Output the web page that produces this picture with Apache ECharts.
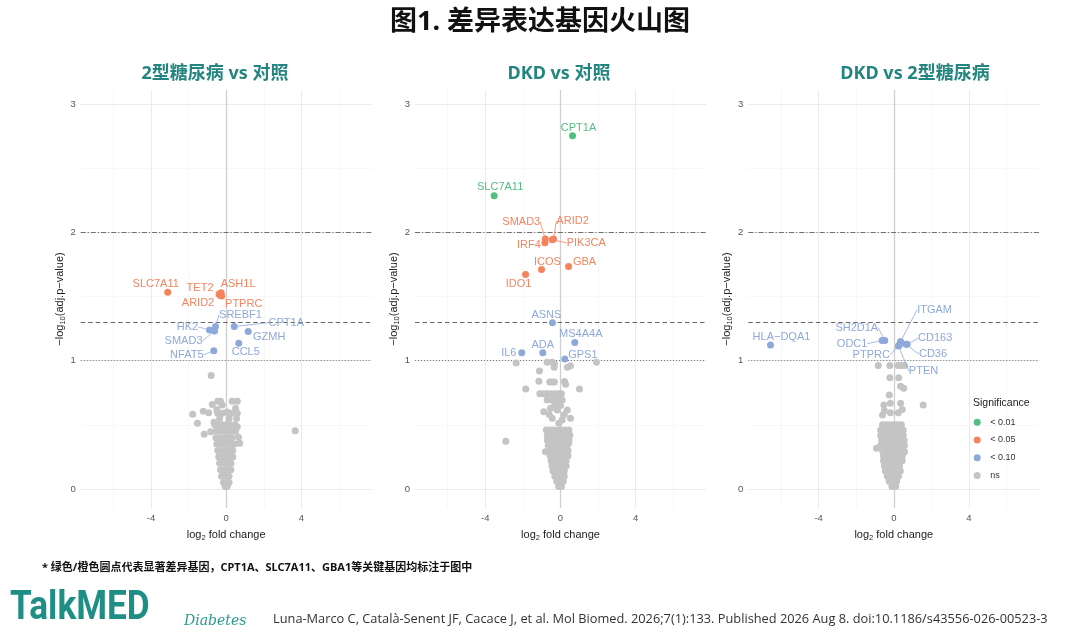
<!DOCTYPE html>
<html><head><meta charset="utf-8">
<script src="https://cdn.jsdelivr.net/npm/echarts@6/dist/echarts.min.js"></script>
<style>html,body{margin:0;padding:0;background:#fff}#c{width:1080px;height:637px}</style>
</head><body><div id="c"></div><script>
// ---------- data ----------
const panelTitles = ['2型糖尿病 vs 对照', 'DKD vs 对照', 'DKD vs 2型糖尿病'];
const sigLevels = ['< 0.01', '< 0.05', '< 0.10', 'ns'];
const xTickLabels = [-4, 0, 4];
const yTickLabels = [0, 1, 2, 3];
const xMinorGrid = [-6, -2, 2, 6];
const yMinorGrid = [0.5, 1.5, 2.5];
const thresholdLines = [2, 1.301, 1]; // -log10(0.01), -log10(0.05), -log10(0.10)

// Panel 1: 2型糖尿病 vs 对照
const p1Genes = ['SLC7A11','TET2','ASH1L','ARID2','PTPRC','SREBF1','HK2','SMAD3','CPT1A','GZMH','CCL5','NFAT5'];
const p1LogFC = [-3.11,-0.38,-0.27,-0.33,-0.24,-0.57,-0.89,-0.62,0.43,1.17,0.67,-0.66];
const p1NegLogP = [1.534,1.52,1.53,1.51,1.505,1.266,1.24,1.232,1.266,1.227,1.136,1.077];
const p1Sig = ['< 0.05','< 0.05','< 0.05','< 0.05','< 0.05','< 0.10','< 0.10','< 0.10','< 0.10','< 0.10','< 0.10','< 0.10'];
const p1Ns = [[-0.80,0.884],[3.67,0.455],[-1.78,0.583],[-1.53,0.512],[-1.22,0.606],[-0.93,0.595],[-1.17,0.427],[-0.83,0.447],
 [-0.74,0.658],[-0.45,0.684],[-0.30,0.684],[0.32,0.684],[0.59,0.684],[-0.21,0.655],[-0.45,0.59],[-0.20,0.59],[0.27,0.59],
 [0.59,0.59],[0.55,0.55],[0.65,0.403],[0.72,0.356],[0.59,0.486],[0.32,0.47],[-0.5,0.62],[-0.35,0.55],[0.05,0.6],[0.15,0.55],
 [-0.65,0.52],[0.5,0.63],
 [-0.6,0.5],[-0.4,0.5],[-0.2,0.5],[0,0.5],[0.2,0.5],[0.45,0.5],
 [-0.55,0.45],[-0.35,0.45],[-0.1,0.45],[0.1,0.45],[0.3,0.45],[0.5,0.45],
 [-0.55,0.4],[-0.3,0.4],[-0.1,0.4],[0.1,0.4],[0.3,0.4],
 [-0.5,0.35],[-0.3,0.35],[-0.1,0.35],[0.1,0.35],[0.3,0.35],[0.45,0.35],
 [-0.45,0.3],[-0.25,0.3],[-0.05,0.3],[0.15,0.3],[0.35,0.3],
 [-0.4,0.25],[-0.2,0.25],[0,0.25],[0.2,0.25],[0.35,0.25],
 [-0.35,0.2],[-0.15,0.2],[0.05,0.2],[0.25,0.2],
 [-0.3,0.15],[-0.1,0.15],[0.1,0.15],[0.25,0.15],
 [-0.25,0.1],[-0.05,0.1],[0.15,0.1],
 [-0.15,0.05],[0.05,0.05],[0.15,0.05],
 [-0.05,0.02],[0.05,0.02]];

// Panel 2: DKD vs 对照
const p2Genes = ['CPT1A','SLC7A11','SMAD3','IRF4','ARID2','PIK3CA','ICOS','GBA','IDO1','ASNS','MS4A4A','ADA','IL6','GPS1'];
const p2LogFC = [0.64,-3.53,-0.81,-0.83,-0.37,-0.44,-1.01,0.43,-1.86,-0.43,0.76,-0.94,-2.06,0.23];
const p2NegLogP = [2.753,2.285,1.948,1.919,1.948,1.942,1.711,1.734,1.672,1.295,1.141,1.063,1.063,1.014];
const p2Sig = ['< 0.01','< 0.01','< 0.05','< 0.05','< 0.05','< 0.05','< 0.05','< 0.05','< 0.05','< 0.10','< 0.10','< 0.10','< 0.10','< 0.10'];
const p2Ns = [[-2.91,0.372],[-2.36,0.983],[-1.85,0.78],[1.91,0.988],[1.01,0.78],[-1.12,0.92],[-1.15,0.84],[-0.71,0.988],
 [-0.44,0.988],[-0.32,0.975],[-0.34,0.95],[0.36,0.95],[0.53,0.96],[-0.57,0.835],[-0.44,0.835],[-0.32,0.835],[0.21,0.837],[0.27,0.817],
 [-1.1,0.743],[-0.9,0.743],[-0.7,0.743],[-0.5,0.743],[-0.3,0.743],[-0.1,0.743],[0.05,0.743],
 [-0.71,0.694],[-0.44,0.694],[-0.18,0.694],[0.09,0.694],
 [-0.89,0.603],[-0.53,0.63],[-0.18,0.616],[0.36,0.616],[0.53,0.551],
 [-0.44,0.551],[-0.09,0.512],[0.09,0.538],[-0.3,0.66],[0.0,0.65],[-0.6,0.58],[0.2,0.58],
 [-0.8,0.29],[0.44,0.356],
 [-0.75,0.46],[-0.55,0.46],[-0.35,0.46],[-0.15,0.46],[0.05,0.46],[0.25,0.46],[0.45,0.46],
 [-0.7,0.42],[-0.5,0.42],[-0.3,0.42],[-0.1,0.42],[0.1,0.42],[0.3,0.42],[0.5,0.42],
 [-0.7,0.38],[-0.5,0.38],[-0.3,0.38],[-0.1,0.38],[0.1,0.38],[0.3,0.38],[0.45,0.38],
 [-0.65,0.34],[-0.45,0.34],[-0.25,0.34],[-0.05,0.34],[0.15,0.34],[0.35,0.34],
 [-0.6,0.3],[-0.4,0.3],[-0.2,0.3],[0,0.3],[0.2,0.3],[0.4,0.3],
 [-0.55,0.26],[-0.35,0.26],[-0.15,0.26],[0.05,0.26],[0.25,0.26],[0.4,0.26],
 [-0.5,0.22],[-0.3,0.22],[-0.1,0.22],[0.1,0.22],[0.3,0.22],
 [-0.45,0.18],[-0.25,0.18],[-0.05,0.18],[0.15,0.18],[0.3,0.18],
 [-0.4,0.14],[-0.2,0.14],[0,0.14],[0.2,0.14],
 [-0.3,0.1],[-0.1,0.1],[0.1,0.1],[0.2,0.1],
 [-0.2,0.06],[0,0.06],[0.15,0.06],
 [-0.1,0.02],[0.05,0.02]];

// Panel 3: DKD vs 2型糖尿病
const p3Genes = ['HLA−DQA1','SH2D1A','ODC1','PTPRC','ITGAM','CD163','CD36','PTEN'];
const p3LogFC = [-6.56,-0.48,-0.62,0.29,0.36,0.71,0.65,0.25];
const p3NegLogP = [1.123,1.157,1.157,1.123,1.149,1.128,1.128,1.115];
const p3Sig = ['< 0.10','< 0.10','< 0.10','< 0.10','< 0.10','< 0.10','< 0.10','< 0.10'];
const p3Ns = [[-0.83,0.962],[-0.21,0.962],[0.23,0.962],[0.41,0.962],[0.57,0.962],
 [-0.21,0.868],[0.26,0.868],[0.36,0.8],[0.53,0.785],[-0.24,0.733],
 [-0.53,0.655],[-0.18,0.668],[0.36,0.668],[1.56,0.655],
 [-0.6,0.577],[-0.18,0.595],[0.24,0.595],[-0.5,0.61],[0.45,0.62],
 [-0.92,0.317],[0.57,0.34],[0.57,0.29],
 [-0.6,0.5],[-0.4,0.5],[-0.2,0.5],[0,0.5],[0.2,0.5],[0.4,0.5],
 [-0.7,0.46],[-0.5,0.46],[-0.3,0.46],[-0.1,0.46],[0.1,0.46],[0.3,0.46],[0.5,0.46],
 [-0.7,0.42],[-0.5,0.42],[-0.3,0.42],[-0.1,0.42],[0.1,0.42],[0.3,0.42],[0.5,0.42],
 [-0.65,0.38],[-0.45,0.38],[-0.25,0.38],[-0.05,0.38],[0.15,0.38],[0.35,0.38],[0.55,0.38],
 [-0.7,0.34],[-0.5,0.34],[-0.3,0.34],[-0.1,0.34],[0.1,0.34],[0.3,0.34],[0.5,0.34],
 [-0.6,0.3],[-0.4,0.3],[-0.2,0.3],[0,0.3],[0.2,0.3],[0.4,0.3],
 [-0.55,0.26],[-0.35,0.26],[-0.15,0.26],[0.05,0.26],[0.25,0.26],[0.45,0.26],
 [-0.55,0.22],[-0.35,0.22],[-0.15,0.22],[0.05,0.22],[0.25,0.22],[0.45,0.22],
 [-0.5,0.18],[-0.3,0.18],[-0.1,0.18],[0.1,0.18],[0.3,0.18],
 [-0.45,0.14],[-0.25,0.14],[-0.05,0.14],[0.15,0.14],[0.35,0.14],
 [-0.35,0.1],[-0.15,0.1],[0.05,0.1],[0.25,0.1],
 [-0.25,0.06],[-0.05,0.06],[0.15,0.06],
 [-0.1,0.02],[0.1,0.02]];

// ---------- label placement (style, px offsets from point) ----------
const labelOffsets = {
  p1: {SLC7A11:[-12,-8], TET2:[-19,-6], ASH1L:[17,-9], ARID2:[-22,8], PTPRC:[22,8], SREBF1:[25,-12], HK2:[-22,-3], SMAD3:[-31,10], CPT1A:[52,-4], GZMH:[21,5], CCL5:[7,9], NFAT5:[-27,4]},
  p2: {CPT1A:[6,-8], SLC7A11:[6,-9], SMAD3:[-24,-17], IRF4:[-16,2], ARID2:[19,-18], PIK3CA:[34,3], ICOS:[6,-8], GBA:[16,-5], IDO1:[-7,9], ASNS:[-6,-8], MS4A4A:[6,-9], ADA:[0,-8], IL6:[-13,0], GPS1:[18,-4]},
  p3: {'HLA−DQA1':[11,-8], SH2D1A:[-28,-13], ODC1:[-30,3], PTPRC:[-28,10], ITGAM:[34,-32], CD163:[28,-6], CD36:[27,10], PTEN:[25,25]}
};
const leaderLines = {
  p1: ['SREBF1','HK2','SMAD3','CPT1A','NFAT5'],
  p2: ['SMAD3','ARID2','PIK3CA'],
  p3: ['SH2D1A','ODC1','PTPRC','ITGAM','CD163','CD36','PTEN']
};

const sigColors = {'< 0.01':'#52BE80', '< 0.05':'#F4845F', '< 0.10':'#8FA8DA', 'ns':'#C4C4C4'};
const FONT = '"Liberation Sans", Arial, sans-serif';
const CJK = '"Noto Sans", "Noto Sans CJK SC", sans-serif';

const panels = [
  {key:'p1', genes:p1Genes, fc:p1LogFC, p:p1NegLogP, sig:p1Sig, ns:p1Ns},
  {key:'p2', genes:p2Genes, fc:p2LogFC, p:p2NegLogP, sig:p2Sig, ns:p2Ns},
  {key:'p3', genes:p3Genes, fc:p3LogFC, p:p3NegLogP, sig:p3Sig, ns:p3Ns}
];
const gridLefts = [80.7, 415, 748.3];
const titleCenters = [215, 559, 915];

const grids = [], xAxes = [], yAxes = [], series = [];
panels.forEach((pn, i) => {
  grids.push({left: gridLefts[i], top: 90, width: 291, height: 418, containLabel: false});
  xAxes.push({
    type: 'value', gridIndex: i, min: -7.74, max: 7.74,
    axisLine: {show: false}, axisTick: {show: false}, splitLine: {show: false},
    axisLabel: {customValues: xTickLabels, color: '#555', fontSize: 9.5, margin: 5, fontFamily: FONT},
    name: 'log{s|2} fold change', nameLocation: 'middle', nameGap: 15,
    nameTextStyle: {color: '#222', fontSize: 11, fontFamily: FONT, lineHeight: 14,
      rich: {s: {fontSize: 7.5, lineHeight: 8, verticalAlign: 'bottom', fontFamily: FONT, color: '#222'}}}
  });
  yAxes.push({
    type: 'value', gridIndex: i, min: -0.148, max: 3.11,
    axisLine: {show: false}, axisTick: {show: false}, splitLine: {show: false},
    axisLabel: {customValues: yTickLabels, color: '#555', fontSize: 9.5, margin: 5, fontFamily: FONT},
    name: '−log{s|10}(adj.p−value)', nameLocation: 'middle', nameGap: 14,
    nameTextStyle: {color: '#222', fontSize: 11, fontFamily: FONT, lineHeight: 14,
      rich: {s: {fontSize: 7.5, lineHeight: 8, verticalAlign: 'bottom', fontFamily: FONT, color: '#222'}}}
  });

  const lines = [];
  xMinorGrid.forEach(v => lines.push({xAxis: v, lineStyle: {color: '#f3f3f3', width: 0.7, type: 'solid'}}));
  yMinorGrid.forEach(v => lines.push({yAxis: v, lineStyle: {color: '#f3f3f3', width: 0.7, type: 'solid'}}));
  xTickLabels.forEach(v => lines.push({xAxis: v, lineStyle: {color: '#ebebeb', width: 1, type: 'solid'}}));
  yTickLabels.forEach(v => lines.push({yAxis: v, lineStyle: {color: '#ebebeb', width: 1, type: 'solid'}}));
  lines.push({xAxis: 0, lineStyle: {color: '#cfcfcf', width: 1.3, type: 'solid'}});
  lines.push({yAxis: thresholdLines[0], lineStyle: {color: '#6f6f6f', width: 1, type: [5, 2, 1.2, 2]}});
  lines.push({yAxis: thresholdLines[1], lineStyle: {color: '#666', width: 1, type: [4.5, 3]}});
  lines.push({yAxis: thresholdLines[2], lineStyle: {color: '#777', width: 1, type: [1, 2]}});

  series.push({
    type: 'scatter', name: 'ns', xAxisIndex: i, yAxisIndex: i, data: pn.ns,
    symbolSize: 7, itemStyle: {color: sigColors.ns, opacity: 1}, z: 2, silent: true,
    markLine: {silent: true, symbol: ['none', 'none'], z: 1, label: {show: false}, animation: false, data: lines}
  });

  sigLevels.slice(0, 3).forEach(level => {
    const items = [];
    pn.genes.forEach((g, k) => {
      if (pn.sig[k] === level) {
        items.push({name: g, value: [pn.fc[k], pn.p[k]], labelLine: {show: leaderLines[pn.key].includes(g)}});
      }
    });
    const col = sigColors[level];
    series.push({
      type: 'scatter', name: level, xAxisIndex: i, yAxisIndex: i, data: items,
      symbolSize: 7, itemStyle: {color: col, opacity: 1}, z: 4, silent: true,
      label: {show: true, formatter: '{b}', position: 'inside', color: col, fontSize: 11, fontFamily: FONT, textBorderWidth: 0},
      labelLine: {lineStyle: {color: col, width: 0.8}, smooth: false, length2: 0},
      labelLayout: (params) => {
        const it = items[params.dataIndex];
        const off = labelOffsets[pn.key][it.name] || [0, -8];
        return {dx: off[0], dy: off[1]};
      }
    });
  });
});

const graphic = [
  {type: 'text', x: 540, y: 22, style: {text: '图1. 差异表达基因火山图', font: 'bold 27px ' + CJK, fill: '#111', align: 'center', verticalAlign: 'middle'}},
  ...panelTitles.map((t, i) => ({type: 'text', x: titleCenters[i], y: 74, style: {text: t, font: 'bold 18px ' + CJK, fill: '#23857F', align: 'center', verticalAlign: 'middle'}})),
  {type: 'text', x: 973, y: 403, style: {text: 'Significance', font: '10.5px ' + FONT, fill: '#222', align: 'left', verticalAlign: 'middle'}},
  {type: 'text', x: 42, y: 568, style: {text: '* 绿色/橙色圆点代表显著差异基因，CPT1A、SLC7A11、GBA1等关键基因均标注于图中', font: 'bold 11px ' + CJK, fill: '#111', align: 'left', verticalAlign: 'middle'}},
  {type: 'text', x: 10, y: 609, scaleX: 0.88, style: {text: 'TalkMED', font: 'bold 40px "Liberation Sans Narrow", "Roboto", sans-serif', fill: '#1F8E84', align: 'left', verticalAlign: 'middle'}},
  {type: 'text', x: 184, y: 621, style: {text: 'Diabetes', font: 'italic 14px "DejaVu Serif", serif', fill: '#2A9A93', align: 'left', verticalAlign: 'middle'}},
  {type: 'text', x: 273, y: 619, style: {text: 'Luna-Marco C, Català-Senent JF, Cacace J, et al. Mol Biomed. 2026;7(1):133. Published 2026 Aug 8. doi:10.1186/s43556-026-00523-3', font: '12.8px "Open Sans", sans-serif', fill: '#333', align: 'left', verticalAlign: 'middle'}}
];

const chart = echarts.init(document.getElementById('c'), null, {renderer: 'canvas'});
chart.setOption({
  animation: false,
  backgroundColor: '#fff',
  grid: grids, xAxis: xAxes, yAxis: yAxes, series: series, graphic: graphic,
  legend: {
    data: sigLevels, orient: 'vertical', left: 973.7, top: 417.3, itemWidth: 16, itemHeight: 7, itemGap: 7.7,
    icon: 'circle', selectedMode: false, padding: 0,
    textStyle: {fontSize: 9, color: '#333', lineHeight: 10, fontFamily: FONT}
  }
});
</script></body></html>
